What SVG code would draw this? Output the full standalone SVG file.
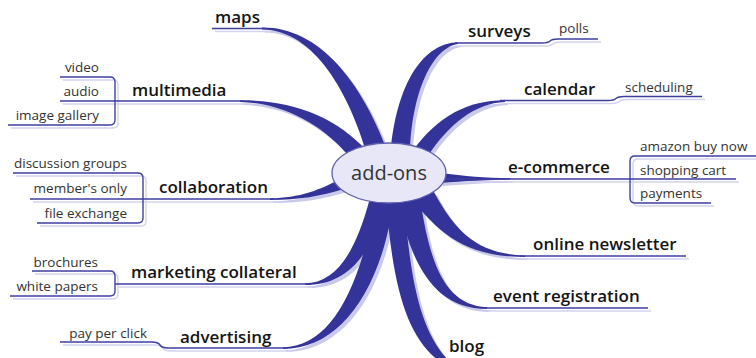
<svg xmlns="http://www.w3.org/2000/svg" xmlns:xlink="http://www.w3.org/1999/xlink" width="756" height="358" viewBox="0 0 756 358">
<style>
.br{fill:#333399}
.brs{fill:#c9c9ea}
.ul{fill:none;stroke:#3f3fa2;stroke-width:1.4}
.uls{fill:none;stroke:#d3d3ee;stroke-width:1.4}
.main{font-family:"Open Sans","Liberation Sans",sans-serif;font-weight:600;font-size:17px;fill:#141414}
.sub{font-family:"Open Sans","Liberation Sans",sans-serif;font-size:13.5px;fill:#333333}
.center{font-family:"Open Sans","Liberation Sans",sans-serif;font-size:20px;fill:#333333}
</style>
<defs>
<path id="b-maps" d="M 262,27.6 C 318,27 362,80 390,158 L 368,158 C 350,95 315,30 262,29.6 Z"/>
<path id="b-multimedia" d="M 240,100.3 C 290,100 335,115 368,152 L 352,160 C 325,126 285,103 240,102 Z"/>
<path id="b-collaboration" d="M 270,198.3 C 300,198 320,190 342,178 L 344,189 C 320,196 300,200 270,200 Z"/>
<path id="b-marketing" d="M 305,283.3 C 335,283 355,255 370,198 L 388,198 C 370,260 345,285 305,285 Z"/>
<path id="b-advertising" d="M 283,347.3 C 330,347 360,290 376,198 L 394,198 C 382,290 340,349 283,349 Z"/>
<path id="b-blog" d="M 386,198 C 392,280 405,335 438,360 L 448,360 C 420,330 410,280 404,198 Z"/>
<path id="b-event" d="M 398,198 C 410,265 435,309 487,309 L 487,307.3 C 445,305 430,265 420,198 Z"/>
<path id="b-newsletter" d="M 410,196 C 440,237 470,257 525,257 L 525,255.5 C 480,254 457,235 434,192 Z"/>
<path id="b-ecommerce" d="M 440,173 C 465,176 485,178 510,178.3 L 510,179.8 C 485,180 465,181 440,183 Z"/>
<path id="b-calendar" d="M 505,100.3 C 470,100 438,115 412,152 L 428,156 C 448,125 475,103 505,102 Z"/>
<path id="b-surveys" d="M 458,42.3 C 425,43 396,80 390,158 L 410,158 C 410,100 430,48 458,44 Z"/>
</defs>
<g id="connectors">
<g transform="translate(3,3)">
<use xlink:href="#b-maps" class="brs"/>
<use xlink:href="#b-multimedia" class="brs"/>
<use xlink:href="#b-collaboration" class="brs"/>
<use xlink:href="#b-marketing" class="brs"/>
<use xlink:href="#b-advertising" class="brs"/>
<use xlink:href="#b-blog" class="brs"/>
<use xlink:href="#b-event" class="brs"/>
<use xlink:href="#b-newsletter" class="brs"/>
<use xlink:href="#b-ecommerce" class="brs"/>
<use xlink:href="#b-calendar" class="brs"/>
<use xlink:href="#b-surveys" class="brs"/>
</g>
<g id="underlines-shadow" transform="translate(3,3)" class="uls">
<path d="M 212,28.5 L 266,28.5"/>
<path d="M 60,101 L 244,101"/>
<path d="M 60,77 L 110,77 Q 115,77 115,82 L 115,120 Q 115,125 110,125 L 8,125"/>
<path d="M 30,199 L 274,199"/>
<path d="M 13,173 L 138,173 Q 143,173 143,178 L 143,218 Q 143,223 138,223 L 37,223"/>
<path d="M 115,284 L 310,284"/>
<path d="M 32,271 L 110,271 Q 115,271 115,276 L 115,291 Q 115,296 110,296 L 10,296"/>
<path d="M 60,342 L 152,342 Q 158,342 160,345 Q 162,348 168,348 L 287,348"/>
<path d="M 455,43 L 542,43 Q 548,43 550,41 Q 552,39 558,39 L 598,39"/>
<path d="M 500,100.5 L 608,100.5 Q 614,100.5 616,98.5 Q 618,96.5 624,96.5 L 702,96.5"/>
<path d="M 444,179 L 736,179"/>
<path d="M 756,156 L 635,156 Q 630,156 630,161 L 630,198 Q 630,203 635,203 L 711,203"/>
<path d="M 520,256 L 686,256"/>
<path d="M 485,308 L 648,308"/>
</g>
<use xlink:href="#b-maps" class="br"/>
<use xlink:href="#b-multimedia" class="br"/>
<use xlink:href="#b-collaboration" class="br"/>
<use xlink:href="#b-marketing" class="br"/>
<use xlink:href="#b-advertising" class="br"/>
<use xlink:href="#b-blog" class="br"/>
<use xlink:href="#b-event" class="br"/>
<use xlink:href="#b-newsletter" class="br"/>
<use xlink:href="#b-ecommerce" class="br"/>
<use xlink:href="#b-calendar" class="br"/>
<use xlink:href="#b-surveys" class="br"/>
<g id="underlines" class="ul">
<path d="M 212,28.5 L 266,28.5"/>
<path d="M 60,101 L 244,101"/>
<path d="M 60,77 L 110,77 Q 115,77 115,82 L 115,120 Q 115,125 110,125 L 8,125"/>
<path d="M 30,199 L 274,199"/>
<path d="M 13,173 L 138,173 Q 143,173 143,178 L 143,218 Q 143,223 138,223 L 37,223"/>
<path d="M 115,284 L 310,284"/>
<path d="M 32,271 L 110,271 Q 115,271 115,276 L 115,291 Q 115,296 110,296 L 10,296"/>
<path d="M 60,342 L 152,342 Q 158,342 160,345 Q 162,348 168,348 L 287,348"/>
<path d="M 455,43 L 542,43 Q 548,43 550,41 Q 552,39 558,39 L 598,39"/>
<path d="M 500,100.5 L 608,100.5 Q 614,100.5 616,98.5 Q 618,96.5 624,96.5 L 702,96.5"/>
<path d="M 444,179 L 736,179"/>
<path d="M 756,156 L 635,156 Q 630,156 630,161 L 630,198 Q 630,203 635,203 L 711,203"/>
<path d="M 520,256 L 686,256"/>
<path d="M 485,308 L 648,308"/>
</g>
</g>
<g id="node-addons">
<ellipse cx="389" cy="173" rx="57" ry="30" fill="#e7e7f8" stroke="#5f5fae" stroke-width="1.3"/>
<text x="389" y="180" class="center" text-anchor="middle">add-ons</text>
</g>
<g id="node-maps"><text x="215" y="23" class="main">maps</text></g>
<g id="node-multimedia"><text x="132" y="96" class="main">multimedia</text>
<text x="99" y="72" class="sub" text-anchor="end">video</text>
<text x="99" y="96" class="sub" text-anchor="end">audio</text>
<text x="99" y="120" class="sub" text-anchor="end">image gallery</text></g>
<g id="node-collaboration"><text x="159" y="193" class="main">collaboration</text>
<text x="127" y="168" class="sub" text-anchor="end">discussion groups</text>
<text x="127" y="193" class="sub" text-anchor="end">member's only</text>
<text x="127" y="218" class="sub" text-anchor="end">file exchange</text></g>
<g id="node-marketing"><text x="131" y="278" class="main">marketing collateral</text>
<text x="98" y="267" class="sub" text-anchor="end">brochures</text>
<text x="98" y="291" class="sub" text-anchor="end">white papers</text></g>
<g id="node-advertising"><text x="180" y="343" class="main">advertising</text>
<text x="147" y="338" class="sub" text-anchor="end">pay per click</text></g>
<g id="node-surveys"><text x="468" y="37" class="main">surveys</text>
<text x="559" y="33" class="sub">polls</text></g>
<g id="node-calendar"><text x="524" y="95" class="main">calendar</text>
<text x="625" y="92" class="sub">scheduling</text></g>
<g id="node-ecommerce"><text x="508" y="173" class="main">e-commerce</text>
<text x="640" y="151" class="sub">amazon buy now</text>
<text x="640" y="175" class="sub">shopping cart</text>
<text x="640" y="198" class="sub">payments</text></g>
<g id="node-newsletter"><text x="533" y="250" class="main">online newsletter</text></g>
<g id="node-event"><text x="493" y="302" class="main">event registration</text></g>
<g id="node-blog"><text x="449" y="352" class="main">blog</text></g>
</svg>
